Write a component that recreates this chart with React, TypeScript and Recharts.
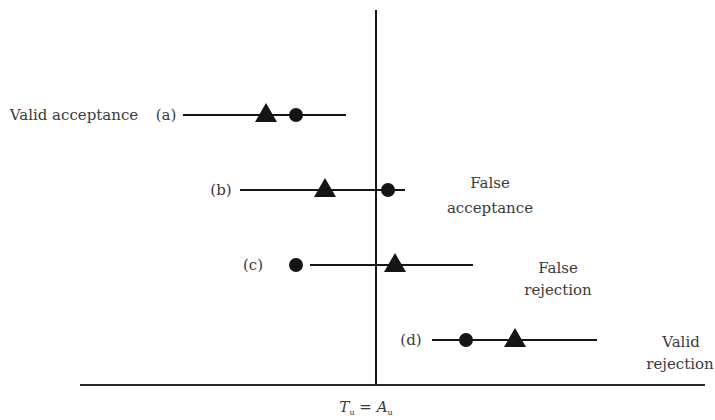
import React from 'react';
import { ScatterChart, Scatter, XAxis, YAxis, ReferenceLine } from 'recharts';

// rows: (a) top .. (d) bottom, y = row level, x = offset from Tu = Au
const rowNames = ['(a)', '(b)', '(c)', '(d)'];
const rowLevels = [4, 3, 2, 1];
const intervalLow = [-19.3, -13.6, -6.6, 5.6];
const intervalHigh = [-3.0, 2.9, 9.7, 22.1];
const triangleX = [-11.0, -5.1, 1.9, 13.9];
const circleX = [-8.0, 1.2, -8.0, 9.0];
const baseLevel = 0.4;
const topLevel = 5.4;
const baseFrom = -29.6;
const baseTo = 32.9;

const triangleData = rowLevels.map((y, i) => ({ x: triangleX[i], y }));
const circleData = rowLevels.map((y, i) => ({ x: circleX[i], y }));

const INK = '#151515';
const TEXT = '#3a3a3a';
const FONT = '"DejaVu Serif", serif';

const Triangle = (props: any) => {
  const { cx, cy } = props;
  return (
    <polygon
      points={`${cx - 11},${cy + 7} ${cx + 11},${cy + 7} ${cx},${cy - 12}`}
      fill={INK}
    />
  );
};

const Dot = (props: any) => {
  const { cx, cy } = props;
  return <circle cx={cx} cy={cy} r={7} fill={INK} />;
};

export default function App() {
  return (
    <div style={{ position: 'relative', width: 715, height: 420 }}>
      <style>{`body{margin:0}`}</style>
      <ScatterChart width={715} height={420} margin={{ top: 10, right: 9, bottom: 5, left: 76 }}>
        <XAxis type="number" dataKey="x" domain={[-30, 33]} hide />
        <YAxis type="number" dataKey="y" domain={[0, 5.4]} hide />
        <ReferenceLine
          segment={[{ x: baseFrom, y: baseLevel }, { x: baseTo, y: baseLevel }]}
          stroke="#2a2a2a"
          strokeWidth={2}
          ifOverflow="visible"
        />
        <ReferenceLine
          segment={[{ x: 0, y: baseLevel }, { x: 0, y: topLevel }]}
          stroke={INK}
          strokeWidth={2}
          ifOverflow="visible"
        />
        {rowLevels.map((y, i) => (
          <ReferenceLine
            key={rowNames[i]}
            segment={[{ x: intervalLow[i], y }, { x: intervalHigh[i], y }]}
            stroke={INK}
            strokeWidth={2}
            ifOverflow="visible"
          />
        ))}
        <Scatter data={triangleData} shape={Triangle} isAnimationActive={false} />
        <Scatter data={circleData} shape={Dot} isAnimationActive={false} />
      </ScatterChart>
      <svg
        width={715}
        height={420}
        style={{ position: 'absolute', left: 0, top: 0, pointerEvents: 'none' }}
        fontFamily={FONT}
        fontSize={15}
        fill={TEXT}
      >
        <text x={74} y={120} textAnchor="middle">Valid acceptance</text>
        <text x={166} y={120} textAnchor="middle">(a)</text>
        <text x={221} y={195} textAnchor="middle">(b)</text>
        <text x={253} y={270} textAnchor="middle">(c)</text>
        <text x={411} y={345} textAnchor="middle">(d)</text>
        <text x={490} y={188} textAnchor="middle">False</text>
        <text x={490} y={213} textAnchor="middle">acceptance</text>
        <text x={558} y={273} textAnchor="middle">False</text>
        <text x={558} y={295} textAnchor="middle">rejection</text>
        <text x={681} y={347} textAnchor="middle">Valid</text>
        <text x={680} y={369} textAnchor="middle">rejection</text>
        <text x={366} y={412} textAnchor="middle">
          <tspan fontStyle="italic">T</tspan>
          <tspan fontSize={8} dy={3}>u</tspan>
          <tspan dy={-3}> = </tspan>
          <tspan fontStyle="italic">A</tspan>
          <tspan fontSize={8} dy={3}>u</tspan>
        </text>
      </svg>
    </div>
  );
}
